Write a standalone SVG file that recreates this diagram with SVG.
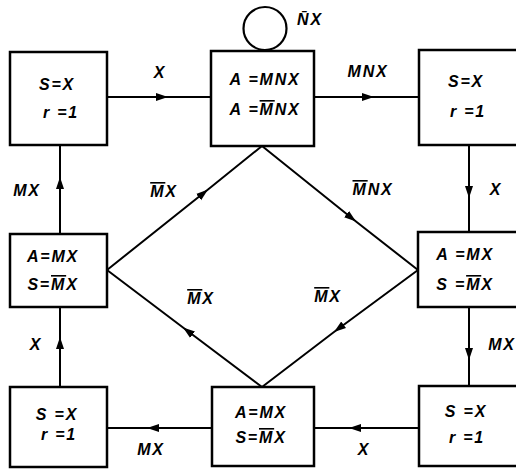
<svg xmlns="http://www.w3.org/2000/svg" width="516" height="469" viewBox="0 0 516 469">
<style>
.box{fill:#fff;stroke:#000;stroke-width:2.5}
.ln{fill:none;stroke:#000;stroke-width:2;marker-mid:url(#ah)}
text{font-family:"Liberation Sans","DejaVu Sans",sans-serif;font-style:italic;font-weight:bold;font-size:16px;fill:#000;text-anchor:middle;letter-spacing:1.8px}
.ob{text-decoration:overline}
</style>
<defs>
<marker id="ah" markerWidth="14" markerHeight="10" refX="12" refY="5" orient="auto" markerUnits="userSpaceOnUse">
<path d="M0,1 L12,5 L0,9 Z" fill="#000"/>
</marker>
</defs>
<rect width="516" height="469" fill="#fff"/>
<g id="connectors">
<path class="ln" d="M107,97 L168,97 L211,97"/>
<path class="ln" d="M314,97 L374,97 L419,97"/>
<path class="ln" d="M469,145 L469,198 L469,232"/>
<path class="ln" d="M469,307 L469,360 L469,386"/>
<path class="ln" d="M419,428 L349,428 L314,428"/>
<path class="ln" d="M212,428 L147,428 L107,428"/>
<path class="ln" d="M60,387 L60,337 L60,307"/>
<path class="ln" d="M60,234 L60,177 L60,145"/>
<path class="ln" d="M107,270 L208,189.5 L262,146"/>
<path class="ln" d="M262,146 L356,221.5 L418,270"/>
<path class="ln" d="M418,270 L334,332 L262,387"/>
<path class="ln" d="M262,387 L183,327.5 L107,270"/>
<circle cx="265" cy="28.5" r="21.5" fill="none" stroke="#000" stroke-width="2.2"/>
<text x="310" y="25">N̄X</text>
<text x="160" y="78">X</text>
<text x="368" y="77">MNX</text>
<text x="496" y="195">X</text>
<text x="502" y="350">MX</text>
<text x="364" y="455">X</text>
<text x="151" y="455">MX</text>
<text x="36" y="350">X</text>
<text x="27" y="196">MX</text>
<text x="164" y="197"><tspan class="ob">M</tspan>X</text>
<text x="373" y="195"><tspan class="ob">M</tspan>NX</text>
<text x="328" y="302"><tspan class="ob">M</tspan>X</text>
<text x="201" y="304"><tspan class="ob">M</tspan>X</text>
</g>
<g id="tl">
<rect class="box" x="10" y="52" width="97" height="93"/>
<text x="57" y="90">S=X</text>
<text x="61" y="118">r =1</text>
</g>
<g id="tc">
<rect class="box" x="211" y="51" width="103" height="95"/>
<text x="265" y="85">A =MNX</text>
<text x="265" y="115">A =<tspan class="ob">M</tspan>NX</text>
</g>
<g id="tr">
<rect class="box" x="419" y="50" width="110" height="95"/>
<text x="466" y="87">S=X</text>
<text x="468" y="117">r =1</text>
</g>
<g id="ml">
<rect class="box" x="10" y="234" width="97" height="73"/>
<text x="53" y="262">A=MX</text>
<text x="53" y="290">S=<tspan class="ob">M</tspan>X</text>
</g>
<g id="mr">
<rect class="box" x="418" y="232" width="110" height="75"/>
<text x="465" y="260">A =MX</text>
<text x="465" y="290">S =<tspan class="ob">M</tspan>X</text>
</g>
<g id="bl">
<rect class="box" x="10" y="387" width="97" height="80"/>
<text x="57" y="420">S =X</text>
<text x="59" y="440">r =1</text>
</g>
<g id="bc">
<rect class="box" x="212" y="387" width="102" height="79"/>
<text x="261" y="418">A=MX</text>
<text x="261" y="443">S=<tspan class="ob">M</tspan>X</text>
</g>
<g id="br">
<rect class="box" x="419" y="386" width="110" height="80"/>
<text x="466" y="417">S =X</text>
<text x="467" y="443">r =1</text>
</g>
</svg>
